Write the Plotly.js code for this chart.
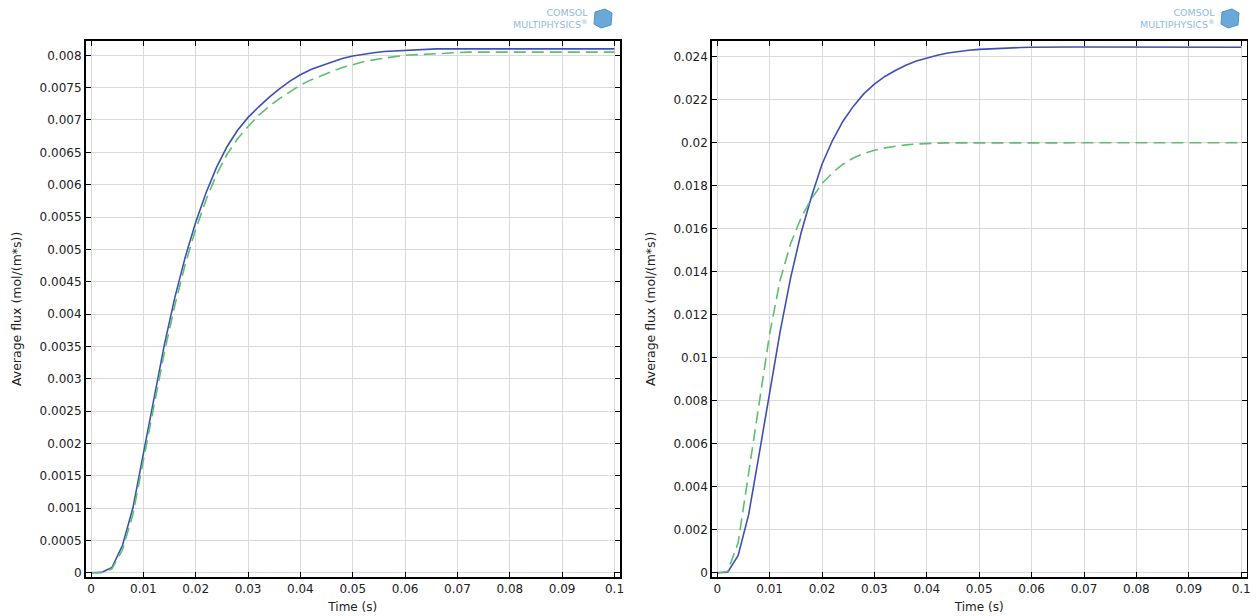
<!DOCTYPE html>
<html>
<head>
<meta charset="utf-8">
<script src="https://cdn.plot.ly/plotly-3.0.1.min.js"></script>
<style>
  html, body { margin: 0; padding: 0; background: #fff; }
  #chart { width: 1259px; height: 616px; }
</style>
</head>
<body>
<div id="chart"></div>
<script>
// ---- Data ----
const time = [0,0.002,0.004,0.006,0.008,0.010,0.012,0.014,0.016,0.018,0.020,0.022,0.024,0.026,0.028,0.030,0.032,0.034,0.036,0.038,0.040,0.042,0.044,0.046,0.048,0.050,0.052,0.054,0.056,0.058,0.060,0.062,0.064,0.066,0.068,0.070,0.072,0.074,0.076,0.078,0.080,0.082,0.084,0.086,0.088,0.090,0.092,0.094,0.096,0.098,0.100];

const leftSolid = [0,0.000005,0.00008,0.00042,0.00100,0.00185,0.00270,0.00352,0.00425,0.00488,0.00542,0.00588,0.00627,0.00659,0.00684,0.00704,0.00720,0.00735,0.00748,0.00760,0.00770,0.00778,0.00784,0.00790,0.00795,0.00799,0.00802,0.00804,0.00806,0.00807,0.00808,0.00809,0.00810,0.00810,0.00810,0.00810,0.00810,0.00810,0.00810,0.00810,0.00810,0.00810,0.00810,0.00810,0.00810,0.00810,0.00810,0.00810,0.00810,0.00810,0.00810];

const leftDashed = [0,0.000003,0.00006,0.00035,0.00090,0.00172,0.00257,0.00340,0.00413,0.00477,0.00531,0.00577,0.00616,0.00647,0.00671,0.00690,0.00707,0.00721,0.00733,0.00744,0.00754,0.00762,0.00769,0.00775,0.00781,0.00786,0.00790,0.00793,0.00796,0.00798,0.00800,0.00801,0.00802,0.00803,0.00804,0.00805,0.00805,0.00805,0.00805,0.00805,0.00805,0.00805,0.00805,0.00805,0.00805,0.00805,0.00805,0.00805,0.00805,0.00805,0.00805];

const rightSolid = [0,0.00002,0.0008,0.0027,0.0055,0.0084,0.0112,0.0137,0.0158,0.0175,0.0190,0.0201,0.0210,0.0217,0.02228,0.02272,0.02308,0.02336,0.02360,0.02380,0.02395,0.02407,0.02417,0.02424,0.02430,0.02434,0.02437,0.02440,0.02442,0.02443,0.02444,0.02445,0.02445,0.02445,0.02445,0.02445,0.02445,0.02445,0.02445,0.02445,0.02445,0.02445,0.02445,0.02445,0.02445,0.02445,0.02445,0.02445,0.02444,0.02444,0.02444];

const rightDashed = [0,0.00005,0.0014,0.0046,0.0080,0.0111,0.0136,0.0153,0.0165,0.0174,0.0181,0.0186,0.0190,0.01929,0.01950,0.01965,0.01976,0.01984,0.0199,0.01994,0.01997,0.01998,0.01999,0.01999,0.02,0.02,0.02,0.02,0.02,0.02,0.02,0.02,0.02,0.02,0.02,0.02,0.02,0.02,0.02,0.02,0.02,0.02,0.02,0.02,0.02,0.02,0.02,0.02,0.02,0.02,0.02];

const xTickVals = [0,0.01,0.02,0.03,0.04,0.05,0.06,0.07,0.08,0.09,0.1];
const xTickText = ["0","0.01","0.02","0.03","0.04","0.05","0.06","0.07","0.08","0.09","0.1"];
const leftTickVals = [0,0.0005,0.001,0.0015,0.002,0.0025,0.003,0.0035,0.004,0.0045,0.005,0.0055,0.006,0.0065,0.007,0.0075,0.008];
const leftTickText = ["0","0.0005","0.001","0.0015","0.002","0.0025","0.003","0.0035","0.004","0.0045","0.005","0.0055","0.006","0.0065","0.007","0.0075","0.008"];
const rightTickVals = [0,0.002,0.004,0.006,0.008,0.01,0.012,0.014,0.016,0.018,0.02,0.022,0.024];
const rightTickText = ["0","0.002","0.004","0.006","0.008","0.01","0.012","0.014","0.016","0.018","0.02","0.022","0.024"];

const xTitle = "Time (s)";
const yTitle = "Average flux (mol/(m*s))";
const logoText = "COMSOL<br>MULTIPHYSICS<sup>®</sup>";

// ---- Styling ----
const W = 1259, H = 616;
const fx = p => p / W;
const fy = p => 1 - p / H;
const BLUE = '#3e50b6';
const GREEN = '#5dbf70';
const FONT = 'DejaVu Sans, sans-serif';

const traces = [
  {x: time, y: leftSolid, xaxis: 'x', yaxis: 'y', mode: 'lines', line: {color: BLUE, width: 1.6}, hoverinfo: 'skip'},
  {x: time, y: leftDashed, xaxis: 'x', yaxis: 'y', mode: 'lines', line: {color: GREEN, width: 1.6, dash: '12px,6px'}, hoverinfo: 'skip'},
  {x: time, y: rightSolid, xaxis: 'x2', yaxis: 'y2', mode: 'lines', line: {color: BLUE, width: 1.6}, hoverinfo: 'skip'},
  {x: time, y: rightDashed, xaxis: 'x2', yaxis: 'y2', mode: 'lines', line: {color: GREEN, width: 1.6, dash: '12px,6px'}, hoverinfo: 'skip'}
];

function xax(domain, anchor) {
  return {
    domain: domain, anchor: anchor,
    range: [-0.00105, 0.10105],
    tickmode: 'array', tickvals: xTickVals, ticktext: xTickText,
    ticks: 'inside', ticklen: 5, tickcolor: '#000', tickwidth: 1,
    showline: true, linecolor: '#000', linewidth: 1.5, mirror: 'ticks',
    showgrid: true, gridcolor: '#dadada', gridwidth: 1, zeroline: false,
    tickfont: {family: FONT, size: 12, color: '#222'},
    title: {text: xTitle, font: {family: FONT, size: 12, color: '#222'}, standoff: 7}
  };
}
function yax(domain, anchor, range, vals, text) {
  return {
    domain: domain, anchor: anchor,
    range: range,
    tickmode: 'array', tickvals: vals, ticktext: text,
    ticks: 'inside', ticklen: 5, tickcolor: '#000', tickwidth: 1,
    showline: true, linecolor: '#000', linewidth: 1.5, mirror: 'ticks',
    showgrid: true, gridcolor: '#dadada', gridwidth: 1, zeroline: false,
    tickfont: {family: FONT, size: 12, color: '#222'},
    title: {text: yTitle, font: {family: FONT, size: 12.5, color: '#222'}, standoff: 15}
  };
}

const yDom = [(H - 577) / H, (H - 40.7) / H];

function logo(xRight) {
  return {xref: 'paper', yref: 'paper', x: fx(xRight), y: fy(18), xanchor: 'right', yanchor: 'middle',
    align: 'right', text: logoText, showarrow: false,
    font: {family: 'DejaVu Sans, sans-serif', size: 9.5, color: '#8fbbdc'}};
}
function cube(x0) {
  const pts = [[x0+2,12],[x0+12,9],[x0+19,13],[x0+18,25],[x0+8,28],[x0+1,24]];
  const path = 'M' + pts.map(p => fx(p[0]) + ',' + fy(p[1])).join(' L') + ' Z';
  return {type: 'path', xref: 'paper', yref: 'paper', path: path, fillcolor: '#6aa8d8', line: {color: '#4f93c9', width: 1}};
}

const layout = {
  width: W, height: H,
  margin: {l: 0, r: 0, t: 0, b: 0},
  paper_bgcolor: '#fff', plot_bgcolor: '#fff',
  showlegend: false,
  xaxis: xax([85.5 / W, 620 / W], 'y'),
  yaxis: yax(yDom, 'x', [-0.0000665, 0.008226], leftTickVals, leftTickText),
  xaxis2: xax([711.7 / W, 1246.7 / W], 'y2'),
  yaxis2: yax(yDom, 'x2', [-0.0002, 0.024744], rightTickVals, rightTickText),
  annotations: [logo(590), logo(1217)],
  shapes: [cube(593), cube(1220)]
};

Plotly.newPlot('chart', traces, layout, {displayModeBar: false, staticPlot: true});
</script>
</body>
</html>
